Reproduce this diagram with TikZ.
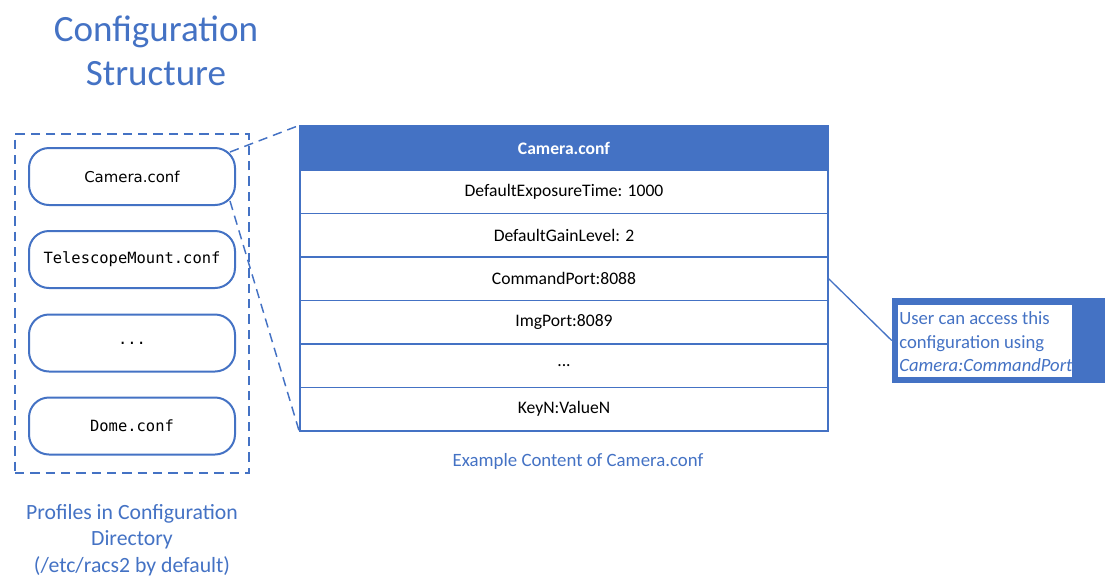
\documentclass[tikz,border=0pt]{standalone}
\usepackage{fontspec}
\setmainfont{Carlito}
\newfontfamily\monof{DejaVu Sans Mono}
\newfontfamily\gothf{DejaVu Sans}
\usetikzlibrary{calc}
\definecolor{ofblue}{HTML}{4472C4}
\begin{document}
\begin{tikzpicture}[x=0.75pt,y=-0.75pt,
  filebox/.style={draw=ofblue, line width=1.5pt, rounded corners=15pt, fill=white,
    minimum width=154.5pt, minimum height=42.75pt, inner sep=0pt},
  row/.style={draw=ofblue, line width=1pt, fill=white, minimum width=396pt,
    minimum height=32.6pt, inner sep=0pt, font=\fontsize{13.2}{15}\selectfont},
  hdr/.style={row, fill=ofblue, text=white, minimum height=33pt, font=\fontsize{13.2}{15}\selectfont\bfseries},
  zoomline/.style={draw=ofblue, line width=1.1pt, dash pattern=on 7pt off 4.5pt},
  bluelabel/.style={text=ofblue, align=center}
]
\useasboundingbox (0,0) rectangle (1105,576);
% title
\node[bluelabel, font=\fontsize{27.8}{33}\selectfont] (title) at (156,51) {Configuration\\Structure};
% group of profiles
\node[draw=ofblue, line width=1.1pt, dash pattern=on 7pt off 4.5pt,
  minimum width=175.5pt, minimum height=254.25pt, inner sep=0pt] (grp) at (132,303.5) {};
\node[filebox, font=\gothf\fontsize{11.2}{13}\selectfont] (f1) at (132,176.5) {Camera.conf};
\node[filebox, font=\monof\fontsize{11.6}{13}\selectfont] (f2) at (132,259.5) {TelescopeMount.conf};
\node[filebox, font=\monof\fontsize{11.6}{13}\selectfont] (f3) at (132,343) {...};
\node[filebox, font=\monof\fontsize{11.6}{13}\selectfont] (f4) at (132,426) {Dome.conf};
\node[bluelabel, font=\fontsize{16.3}{19.9}\selectfont] (glabel) at (132,540)
  {Profiles in Configuration\\Directory\\(/etc/racs2 by default)};
% table
\node[hdr] (h) at (564,148) {Camera.conf};
\node[row] (r1) at (564,191.75) {DefaultExposureTime: 1000};
\node[row] (r2) at (564,235.25) {DefaultGainLevel: 2};
\node[row] (r3) at (564,278.75) {CommandPort:8088};
\node[row] (r4) at (564,322.25) {ImgPort:8089};
\node[row] (r5) at (564,365.75) {...};
\node[row] (r6) at (564,409.25) {KeyN:ValueN};
\node[text=ofblue, anchor=base, font=\fontsize{14.1}{16}\selectfont] (tlabel) at (578,466) {Example Content of Camera.conf};
% zoom lines
\draw[zoomline] ($(f1.north east)+(-6,5)$) -- (h.north west);
\draw[zoomline] ($(f1.south east)+(-6,-5)$) -- (r6.south west);
% callout
\node[fill=ofblue, minimum width=159.75pt, minimum height=63.75pt, inner sep=0pt] (call) at (998.5,340.5) {};
\node[fill=white, minimum width=130.5pt, minimum height=54pt, inner sep=0pt] (callin) at (985,341) {};
\node[anchor=west, text=ofblue, align=left, inner sep=0pt, font=\fontsize{14}{17.6}\selectfont] (calltext) at (899,342)
  {User can access this\\configuration using\\\textit{Camera:CommandPort}};
\draw[ofblue, line width=1pt] (r3.east) -- (call.west);
\end{tikzpicture}
\end{document}
